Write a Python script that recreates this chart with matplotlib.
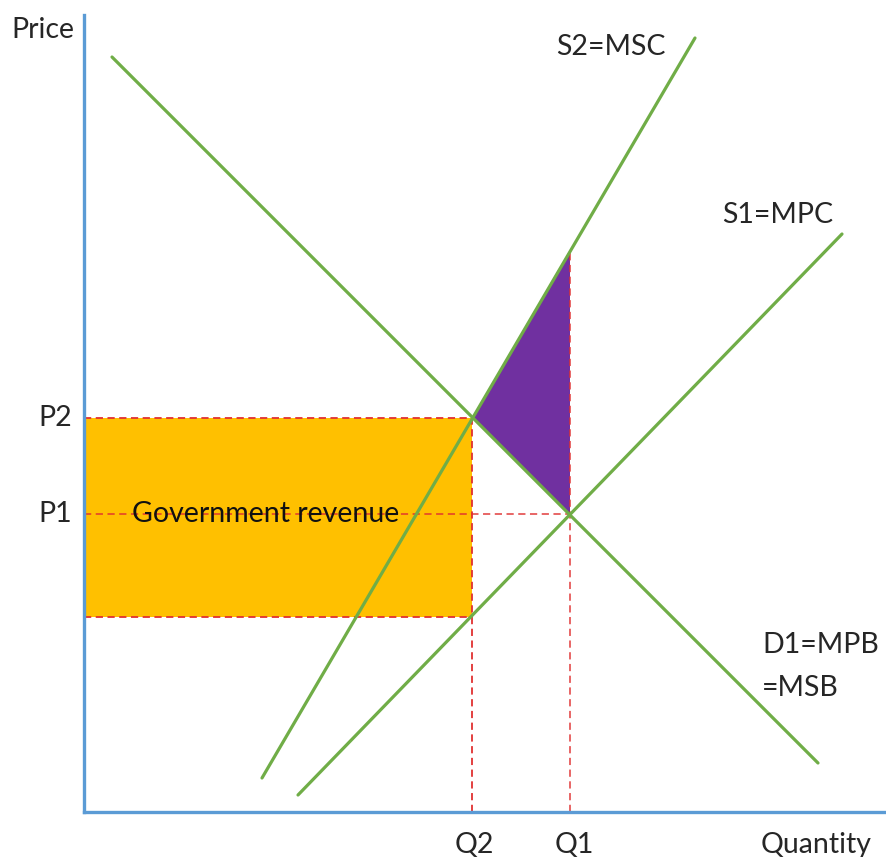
import matplotlib.pyplot as plt
from matplotlib.patches import Polygon, Rectangle

plt.rcParams['font.family'] = ['Lato', 'DejaVu Sans']

# quantities / prices (axis origin at 0,0)
q2, q1 = 388, 486
p2, p1 = 394, 298
p_low = 195      # S1 at Q2
p_msc_q1 = 562   # S2 at Q1

demand_x = [28, 734]
demand_y = [755, 49]
s2_x = [178, 611]
s2_y = [34, 774]
s1_x = [214, 758]
s1_y = [17, 578]

x_max, y_max = 802, 797

green = '#70AD47'
red = '#E03030'
axis_blue = '#5B9BD5'

fig = plt.figure(figsize=(8.86, 8.57), dpi=100)
ax = fig.add_axes([0, 0, 1, 1])
ax.set_xlim(-84, 802)
ax.set_ylim(-45, 812)
ax.axis('off')

# government revenue rectangle
ax.add_patch(Rectangle((0, p_low), q2, p2 - p_low, facecolor='#FFC000', edgecolor='none', zorder=1))
# welfare loss triangle
ax.add_patch(Polygon([(q2, p2), (q1, p_msc_q1), (q1, p1)], closed=True,
                     facecolor='#7030A0', edgecolor='none', zorder=1))

dash = dict(color=red, lw=1.3, dashes=(4, 2.5), zorder=2)
ax.plot([0, q2], [p2, p2], **dash)
ax.plot([0, q2], [p_low, p_low], **dash)
ax.plot([0, q1], [p1, p1], alpha=0.8, **dash)
ax.plot([q2, q2], [0, p2], **dash)
ax.plot([q1, q1], [0, p_msc_q1], alpha=0.8, **dash)

ax.plot(demand_x, demand_y, color=green, lw=2.3, solid_capstyle='round', zorder=3)
ax.plot(s2_x, s2_y, color=green, lw=2.3, solid_capstyle='round', zorder=3)
ax.plot(s1_x, s1_y, color=green, lw=2.3, solid_capstyle='round', zorder=3)

ax.plot([0, 0], [0, y_max], color=axis_blue, lw=2.4, zorder=4)
ax.plot([0, x_max], [0, 0], color=axis_blue, lw=2.4, zorder=4)

fs = 20.5
tc = '#262626'
ax.text(-10, 782, 'Price', ha='right', va='center', fontsize=fs, color=tc)
ax.text(-12, p2, 'P2', ha='right', va='center', fontsize=fs, color=tc)
ax.text(-12, p1, 'P1', ha='right', va='center', fontsize=fs, color=tc)
ax.text(390, -33, 'Q2', ha='center', va='center', fontsize=fs, color=tc)
ax.text(490, -33, 'Q1', ha='center', va='center', fontsize=fs, color=tc)
ax.text(732, -33, 'Quantity', ha='center', va='center', fontsize=fs, color=tc)
ax.text(182, p1, 'Government revenue', ha='center', va='center', fontsize=fs, color='#111111', zorder=5)
ax.text(472, 765, 'S2=MSC', ha='left', va='center', fontsize=fs, color=tc)
ax.text(638, 597, 'S1=MPC', ha='left', va='center', fontsize=fs, color=tc)
ax.text(678, 167, 'D1=MPB', ha='left', va='center', fontsize=fs, color=tc)
ax.text(678, 124, '=MSB', ha='left', va='center', fontsize=fs, color=tc)

plt.savefig('out.png', dpi=100)
plt.close()
